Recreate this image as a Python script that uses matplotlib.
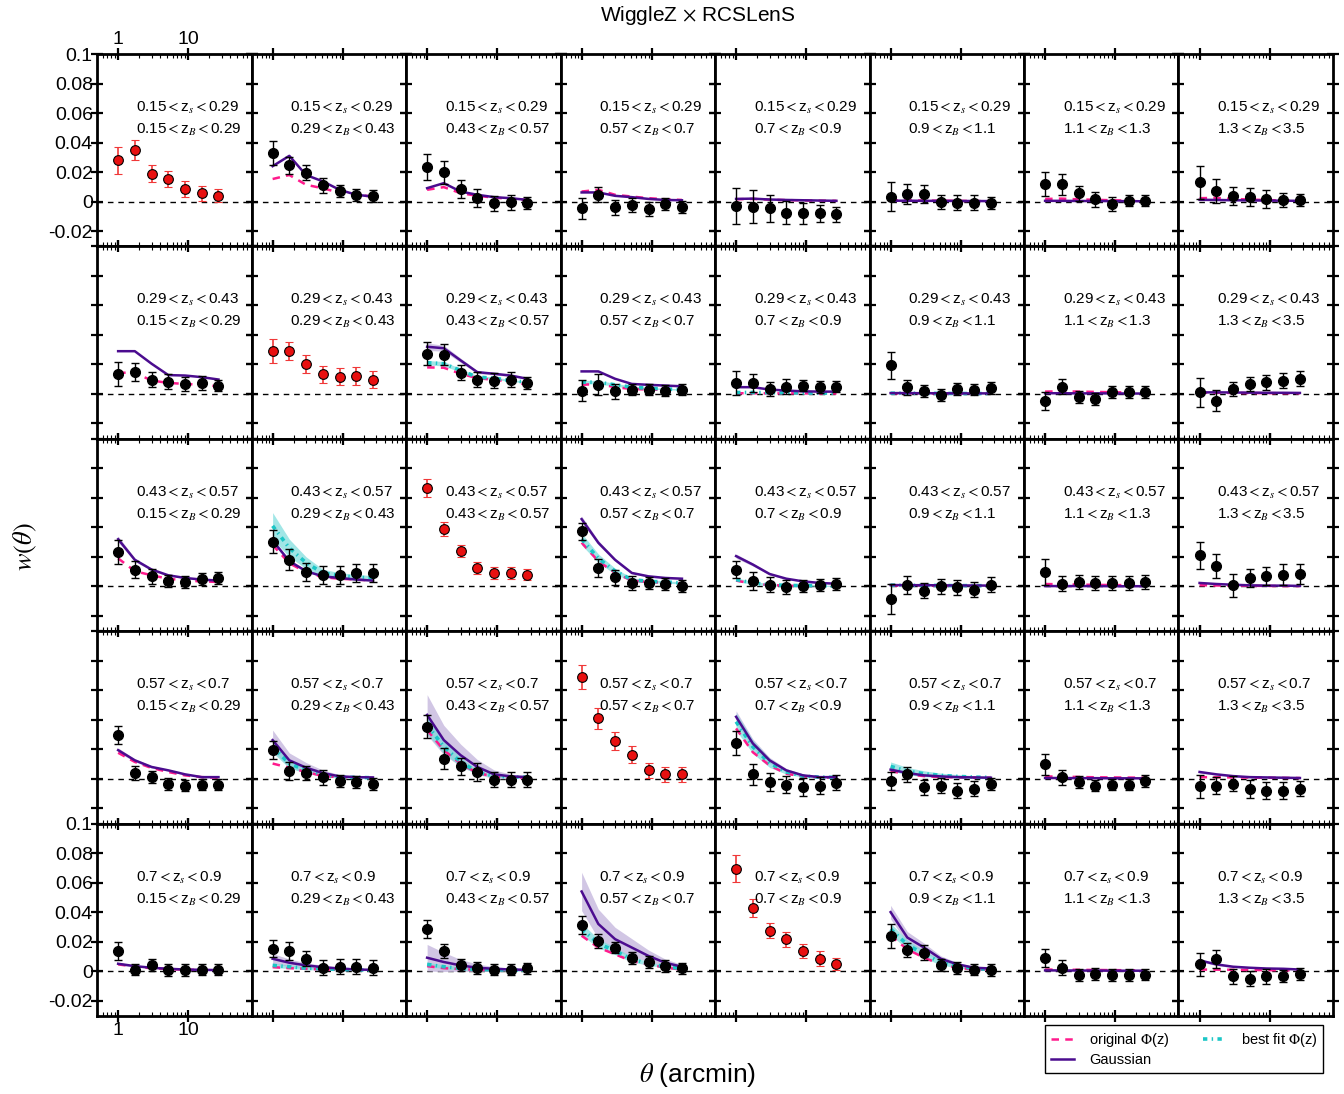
import numpy as np
import matplotlib.pyplot as plt
from matplotlib.ticker import FixedLocator, LogLocator, NullFormatter
from matplotlib.lines import Line2D

plt.rcParams['font.family'] = ['Liberation Sans', 'DejaVu Sans']
plt.rcParams['mathtext.fontset'] = 'stix'

# angular bins (arcmin)
theta = [1.0, 1.73, 3.0, 5.2, 9.0, 15.6, 27.0]

zs_edges = ["0.15", "0.29", "0.43", "0.57", "0.7", "0.9"]
zb_edges = ["0.15", "0.29", "0.43", "0.57", "0.7", "0.9", "1.1", "1.3", "3.5"]

# ---- row 0 : 0.15<zs<0.29
obs_0 = [[0.028, 0.035, 0.019, 0.0155, 0.0085, 0.0055, 0.004],
         [0.033, 0.0245, 0.0195, 0.011, 0.007, 0.0047, 0.004],
         [0.0235, 0.0198, 0.0084, 0.0023, -0.0011, -0.0005, -0.0011],
         [-0.0046, 0.0046, -0.0039, -0.0023, -0.005, -0.0016, -0.0034],
         [-0.003, -0.0034, -0.0046, -0.0075, -0.008, -0.008, -0.0087],
         [0.0034, 0.0052, 0.0052, -0.0002, -0.0007, -0.0007, -0.0007],
         [0.0118, 0.0118, 0.0057, 0.0016, -0.0016, 0.0007, 0.0007],
         [0.013, 0.0073, 0.0039, 0.003, 0.0016, 0.0011, 0.0009]]
err_0 = [[0.009, 0.007, 0.006, 0.0055, 0.0055, 0.005, 0.0045],
         [0.008, 0.006, 0.005, 0.005, 0.004, 0.004, 0.004],
         [0.009, 0.008, 0.006, 0.006, 0.005, 0.005, 0.004],
         [0.007, 0.005, 0.005, 0.005, 0.005, 0.004, 0.004],
         [0.012, 0.011, 0.009, 0.008, 0.007, 0.006, 0.005],
         [0.010, 0.007, 0.006, 0.005, 0.005, 0.005, 0.004],
         [0.008, 0.007, 0.005, 0.005, 0.005, 0.004, 0.004],
         [0.011, 0.008, 0.006, 0.006, 0.006, 0.005, 0.004]]
gauss_0 = [None,
           [0.024, 0.031, 0.018, 0.0137, 0.008, 0.0046, 0.0034],
           [0.0091, 0.0125, 0.0068, 0.0046, 0.003, 0.0023, 0.0011],
           [0.0062, 0.0062, 0.0039, 0.003, 0.0018, 0.0011, 0.0009],
           [0.0018, 0.002, 0.0014, 0.0011, 0.0009, 0.0007, 0.0005],
           [0.0006, 0.0006, 0.0005, 0.0005, 0.0004, 0.0004, 0.0003],
           [0.0005, 0.0005, 0.0004, 0.0004, 0.0003, 0.0003, 0.0002],
           [0.0012, 0.0011, 0.0009, 0.0008, 0.0007, 0.0006, 0.0005]]
orig_0 = [None,
          [0.0153, 0.018, 0.0114, 0.009, 0.006, 0.0046, 0.0034],
          [0.008, 0.0098, 0.0057, 0.0039, 0.0027, 0.0018, 0.0011],
          [0.0068, 0.008, 0.0046, 0.0034, 0.0023, 0.0016, 0.0011],
          [0.0016, 0.0018, 0.0013, 0.001, 0.0008, 0.0006, 0.0005],
          [0.0008, 0.0009, 0.0007, 0.0006, 0.0005, 0.0004, 0.0003],
          [0.0018, 0.002, 0.0015, 0.0012, 0.0009, 0.0007, 0.0005],
          [0.0023, 0.0025, 0.0018, 0.0014, 0.001, 0.0008, 0.0006]]
best_0 = [None] * 8
gband_0 = [None] * 8
bband_0 = [None] * 8

# ---- row 1 : 0.29<zs<0.43
obs_1 = [[0.0137, 0.0148, 0.0098, 0.0084, 0.0068, 0.0075, 0.0057],
         [0.029, 0.029, 0.0205, 0.0132, 0.0118, 0.0121, 0.0098],
         [0.0274, 0.0267, 0.0144, 0.0098, 0.0091, 0.0098, 0.0075],
         [0.0023, 0.0062, 0.0018, 0.003, 0.003, 0.0023, 0.003],
         [0.0075, 0.0073, 0.0034, 0.005, 0.0057, 0.0046, 0.005],
         [0.0194, 0.0046, 0.0018, -0.0005, 0.0034, 0.003, 0.0039],
         [-0.0046, 0.005, -0.0023, -0.0034, 0.0016, 0.0011, 0.0011],
         [0.0011, -0.0046, 0.0034, 0.0068, 0.008, 0.0091, 0.0103]]
err_1 = [[0.008, 0.006, 0.005, 0.005, 0.005, 0.005, 0.004],
         [0.008, 0.006, 0.006, 0.006, 0.006, 0.006, 0.006],
         [0.008, 0.007, 0.005, 0.005, 0.005, 0.005, 0.004],
         [0.007, 0.007, 0.005, 0.004, 0.004, 0.004, 0.004],
         [0.008, 0.006, 0.005, 0.005, 0.004, 0.004, 0.004],
         [0.009, 0.005, 0.004, 0.004, 0.004, 0.004, 0.004],
         [0.006, 0.005, 0.004, 0.004, 0.004, 0.004, 0.004],
         [0.010, 0.007, 0.005, 0.005, 0.005, 0.005, 0.005]]
gauss_1 = [[0.029, 0.029, 0.0205, 0.0128, 0.0125, 0.0114, 0.0098],
           None,
           [0.032, 0.031, 0.0228, 0.0148, 0.0137, 0.0125, 0.0103],
           [0.0153, 0.0153, 0.0103, 0.0068, 0.0062, 0.0057, 0.0052],
           [0.0046, 0.0046, 0.003, 0.0023, 0.0018, 0.0016, 0.0016],
           [0.0006, 0.0006, 0.0005, 0.0005, 0.0004, 0.0004, 0.0004],
           [0.0005, 0.0005, 0.0004, 0.0004, 0.0004, 0.0003, 0.0003],
           [0.0011, 0.0011, 0.001, 0.0009, 0.0008, 0.0008, 0.0007]]
orig_1 = [[0.0144, 0.0144, 0.0091, 0.0075, 0.0068, 0.0062, 0.0052],
          None,
          [0.018, 0.0178, 0.0137, 0.0107, 0.0096, 0.0084, 0.0062],
          [0.0062, 0.0068, 0.0046, 0.0034, 0.003, 0.0027, 0.0023],
          [0.0005, 0.0005, 0.0004, 0.0004, 0.0004, 0.0003, 0.0003],
          [0.0004, 0.0004, 0.0004, 0.0003, 0.0003, 0.0003, 0.0002],
          [0.0016, 0.0018, 0.0016, 0.0014, 0.0012, 0.001, 0.0009],
          [0.0008, 0.0008, 0.0007, 0.0006, 0.0006, 0.0005, 0.0005]]
best_1 = [None, None,
          [0.0212, 0.0205, 0.016, 0.0114, 0.0107, 0.0091, 0.008],
          [0.008, 0.008, 0.0062, 0.0046, 0.0039, 0.0034, 0.003],
          [0.001, 0.001, 0.0009, 0.0008, 0.0007, 0.0006, 0.0006],
          [0.0005, 0.0005, 0.0004, 0.0004, 0.0003, 0.0003, 0.0003],
          None, None]
gband_1 = [None, None,
           [0.0025, 0.002, 0.0015, 0.001, 0.0008, 0.0007, 0.0006],
           None, None, None, None, None]
bband_1 = [None, None,
           [0.0015, 0.0015, 0.0012, 0.001, 0.0008, 0.0007, 0.0006],
           [0.0012, 0.0012, 0.001, 0.0008, 0.0006, 0.0005, 0.0005],
           None, None, None, None]

# ---- row 2 : 0.43<zs<0.57
obs_2 = [[0.0233, 0.0114, 0.0068, 0.0034, 0.003, 0.0052, 0.0057],
         [0.0303, 0.018, 0.0096, 0.0075, 0.0075, 0.0091, 0.0091],
         [0.0668, 0.0388, 0.024, 0.0125, 0.0091, 0.0091, 0.008],
         [0.0372, 0.0125, 0.0062, 0.0023, 0.0023, 0.0018, 0.0005],
         [0.0114, 0.0034, 0.0011, -0.0005, 0.0, 0.0011, 0.0018],
         [-0.0084, 0.0011, -0.003, 0.0, -0.0007, -0.0023, 0.0011],
         [0.0096, 0.0018, 0.003, 0.0023, 0.0023, 0.0023, 0.003],
         [0.021, 0.0137, 0.0007, 0.0057, 0.0068, 0.008, 0.0084]]
err_2 = [[0.008, 0.006, 0.005, 0.004, 0.004, 0.004, 0.004],
         [0.008, 0.007, 0.006, 0.006, 0.006, 0.006, 0.006],
         [0.006, 0.005, 0.004, 0.004, 0.004, 0.004, 0.004],
         [0.006, 0.006, 0.005, 0.005, 0.004, 0.004, 0.004],
         [0.006, 0.006, 0.005, 0.005, 0.004, 0.004, 0.004],
         [0.010, 0.006, 0.005, 0.005, 0.005, 0.005, 0.005],
         [0.009, 0.005, 0.005, 0.005, 0.005, 0.005, 0.005],
         [0.009, 0.008, 0.008, 0.006, 0.006, 0.007, 0.007]]
gauss_2 = [[0.032, 0.018, 0.0114, 0.0075, 0.0057, 0.0046, 0.0039],
           [0.031, 0.0171, 0.0103, 0.0068, 0.0057, 0.0046, 0.0039],
           None,
           [0.0456, 0.0296, 0.018, 0.0091, 0.0068, 0.0057, 0.0052],
           [0.0205, 0.0148, 0.0084, 0.0052, 0.0034, 0.0023, 0.0018],
           [0.0009, 0.0008, 0.0008, 0.0007, 0.0006, 0.0006, 0.0005],
           [0.0002, 0.0002, 0.0002, 0.0002, 0.0001, 0.0001, 0.0001],
           [0.0023, 0.0016, 0.0011, 0.0007, 0.0005, 0.0005, 0.0003]]
orig_2 = [[0.019, 0.0103, 0.0075, 0.0052, 0.0039, 0.0034, 0.003],
          [0.028, 0.0157, 0.0096, 0.0062, 0.0052, 0.0046, 0.0039],
          None,
          [0.0296, 0.0171, 0.0091, 0.0039, 0.003, 0.0023, 0.0018],
          [0.0039, 0.0018, 0.0009, 0.0005, 0.0002, 0.0002, 0.0],
          [0.0005, 0.0005, 0.0004, 0.0004, 0.0003, 0.0003, 0.0003],
          [0.0016, 0.0014, 0.0012, 0.001, 0.0009, 0.0008, 0.0007],
          [0.0008, 0.0006, 0.0005, 0.0004, 0.0003, 0.0002, 0.0002]]
best_2 = [None,
          [0.041, 0.026, 0.016, 0.0091, 0.0073, 0.0062, 0.0057],
          None,
          [0.032, 0.019, 0.0103, 0.0046, 0.0034, 0.003, 0.0023],
          [0.0046, 0.0023, 0.0011, 0.0007, 0.0005, 0.0005, 0.0002],
          [0.0008, 0.0007, 0.0007, 0.0006, 0.0005, 0.0005, 0.0004],
          None, None]
gband_2 = [[0.002, 0.0012, 0.0008, 0.0005, 0.0004, 0.0003, 0.0003],
           [0.0015, 0.001, 0.0007, 0.0005, 0.0004, 0.0003, 0.0003],
           None,
           [0.002, 0.0015, 0.001, 0.0007, 0.0005, 0.0004, 0.0003],
           [0.0015, 0.001, 0.0007, 0.0005, 0.0003, 0.0002, 0.0002],
           None, None, None]
bband_2 = [None,
           [0.009, 0.006, 0.004, 0.0025, 0.002, 0.0018, 0.0016],
           None,
           [0.004, 0.003, 0.002, 0.0012, 0.001, 0.0008, 0.0007],
           [0.0012, 0.001, 0.0008, 0.0006, 0.0005, 0.0004, 0.0004],
           None, None, None]

# ---- row 3 : 0.57<zs<0.7
obs_3 = [[0.0296, 0.0039, 0.0011, -0.0034, -0.0046, -0.0039, -0.0039],
         [0.0194, 0.0052, 0.0039, 0.0011, -0.0016, -0.0023, -0.0034],
         [0.0353, 0.0137, 0.0084, 0.0046, -0.0007, -0.0007, -0.0007],
         [0.069, 0.041, 0.0255, 0.0164, 0.0057, 0.003, 0.003],
         [0.0244, 0.003, -0.0023, -0.0039, -0.0057, -0.0046, -0.0027],
         [-0.0016, 0.003, -0.0057, -0.0046, -0.008, -0.0068, -0.0034],
         [0.0098, 0.0011, -0.0023, -0.0046, -0.0039, -0.0039, -0.0016],
         [-0.0052, -0.0046, -0.0034, -0.0068, -0.008, -0.008, -0.0068]]
err_3 = [[0.006, 0.005, 0.004, 0.004, 0.004, 0.004, 0.004],
         [0.006, 0.006, 0.005, 0.005, 0.004, 0.004, 0.004],
         [0.008, 0.007, 0.006, 0.006, 0.005, 0.005, 0.005],
         [0.008, 0.007, 0.006, 0.006, 0.005, 0.005, 0.005],
         [0.008, 0.007, 0.006, 0.006, 0.006, 0.006, 0.005],
         [0.006, 0.005, 0.005, 0.005, 0.005, 0.005, 0.004],
         [0.007, 0.005, 0.004, 0.004, 0.004, 0.004, 0.004],
         [0.008, 0.006, 0.005, 0.006, 0.006, 0.006, 0.005]]
gauss_3 = [[0.0194, 0.0125, 0.008, 0.0057, 0.003, 0.0011, 0.0011],
           [0.0262, 0.0125, 0.0075, 0.0039, 0.0016, 0.0011, 0.0009],
           [0.0433, 0.0262, 0.016, 0.008, 0.003, 0.0016, 0.0011],
           None,
           [0.042, 0.024, 0.0125, 0.0057, 0.0023, 0.0011, 0.0011],
           [0.0062, 0.0039, 0.0023, 0.0016, 0.0011, 0.0009, 0.0007],
           [0.0005, 0.0005, 0.0004, 0.0004, 0.0003, 0.0003, 0.0003],
           [0.0046, 0.003, 0.0018, 0.0011, 0.0009, 0.0007, 0.0005]]
orig_3 = [[0.0176, 0.0114, 0.0073, 0.0046, 0.0023, 0.0011, 0.0007],
          [0.0103, 0.0075, 0.0046, 0.0018, 0.0011, 0.0007, 0.0005],
          [0.033, 0.0194, 0.0103, 0.0039, 0.0016, 0.0009, 0.0007],
          None,
          [0.0341, 0.018, 0.0091, 0.0034, 0.0016, 0.0009, 0.0007],
          [0.0052, 0.003, 0.0018, 0.0011, 0.0009, 0.0007, 0.0007],
          [0.0016, 0.0014, 0.0012, 0.001, 0.0009, 0.0008, 0.0007],
          [0.0011, 0.001, 0.0009, 0.0008, 0.0007, 0.0006, 0.0005]]
best_3 = [None,
          [0.0217, 0.0103, 0.0057, 0.003, 0.0011, 0.0009, 0.0007],
          [0.0364, 0.0217, 0.0114, 0.0046, 0.0018, 0.0011, 0.0011],
          None,
          [0.0387, 0.0217, 0.0107, 0.0046, 0.0018, 0.0011, 0.0009],
          [0.0084, 0.0052, 0.0034, 0.0023, 0.0016, 0.0011, 0.0009],
          None, None]
gband_3 = [[0.0015, 0.001, 0.0008, 0.0006, 0.0004, 0.0003, 0.0003],
           [0.0068, 0.005, 0.0035, 0.002, 0.0012, 0.0008, 0.0006],
           [0.0137, 0.01, 0.0075, 0.005, 0.003, 0.0015, 0.001],
           None,
           [0.004, 0.003, 0.002, 0.0012, 0.0008, 0.0005, 0.0004],
           [0.001, 0.0008, 0.0006, 0.0005, 0.0004, 0.0003, 0.0003],
           None,
           [0.0008, 0.0006, 0.0005, 0.0004, 0.0003, 0.0003, 0.0002]]
bband_3 = [None,
           [0.004, 0.003, 0.002, 0.0012, 0.0008, 0.0005, 0.0004],
           [0.006, 0.0045, 0.003, 0.0015, 0.0008, 0.0005, 0.0004],
           None,
           [0.006, 0.0045, 0.003, 0.0015, 0.0008, 0.0005, 0.0004],
           [0.003, 0.0025, 0.002, 0.0015, 0.0012, 0.001, 0.0008],
           None, None]

# ---- row 4 : 0.7<zs<0.9
obs_4 = [[0.0135, 0.0011, 0.0039, 0.0007, 0.0007, 0.0011, 0.0011],
         [0.0153, 0.0137, 0.0084, 0.0023, 0.003, 0.003, 0.0023],
         [0.0285, 0.0137, 0.0039, 0.0023, 0.0011, 0.0011, 0.0018],
         [0.0312, 0.0205, 0.016, 0.0091, 0.0062, 0.0034, 0.0018],
         [0.0695, 0.0426, 0.0274, 0.0217, 0.0137, 0.0084, 0.0046],
         [0.024, 0.0144, 0.0125, 0.0039, 0.0023, 0.0011, 0.0007],
         [0.0091, 0.0023, -0.0027, -0.0018, -0.0027, -0.0027, -0.0023],
         [0.0046, 0.0084, -0.0034, -0.005, -0.0034, -0.0034, -0.0018]]
err_4 = [[0.006, 0.004, 0.004, 0.004, 0.004, 0.004, 0.004],
         [0.006, 0.006, 0.005, 0.005, 0.005, 0.005, 0.005],
         [0.006, 0.005, 0.004, 0.004, 0.004, 0.004, 0.004],
         [0.006, 0.005, 0.004, 0.004, 0.004, 0.004, 0.004],
         [0.009, 0.006, 0.005, 0.005, 0.005, 0.005, 0.004],
         [0.008, 0.005, 0.005, 0.004, 0.004, 0.004, 0.004],
         [0.006, 0.005, 0.004, 0.004, 0.004, 0.004, 0.004],
         [0.008, 0.006, 0.005, 0.005, 0.005, 0.004, 0.004]]
gauss_4 = [[0.005, 0.0034, 0.0023, 0.0016, 0.0011, 0.0009, 0.0007],
           [0.0084, 0.0057, 0.0039, 0.0027, 0.0018, 0.0011, 0.0009],
           [0.0091, 0.0062, 0.0039, 0.0023, 0.0016, 0.0011, 0.0009],
           [0.054, 0.032, 0.0217, 0.016, 0.0103, 0.0057, 0.003],
           None,
           [0.040, 0.0228, 0.016, 0.0084, 0.0046, 0.0023, 0.0018],
           [0.0005, 0.0005, 0.0004, 0.0004, 0.0003, 0.0003, 0.0003],
           [0.0073, 0.0046, 0.003, 0.0023, 0.0018, 0.0016, 0.0011]]
orig_4 = [[0.0046, 0.003, 0.002, 0.0014, 0.001, 0.0008, 0.0006],
          [0.0027, 0.002, 0.0016, 0.0011, 0.0009, 0.0007, 0.0005],
          [0.0034, 0.002, 0.0014, 0.0009, 0.0007, 0.0005, 0.0005],
          [0.024, 0.016, 0.0114, 0.0068, 0.0046, 0.0023, 0.0011],
          None,
          [0.024, 0.0148, 0.0091, 0.0046, 0.0023, 0.0011, 0.0009],
          [0.0011, 0.001, 0.0009, 0.0008, 0.0007, 0.0006, 0.0005],
          [0.0011, 0.001, 0.0009, 0.0008, 0.0007, 0.0006, 0.0005]]
best_4 = [None,
          [0.0039, 0.003, 0.002, 0.0016, 0.0011, 0.0009, 0.0007],
          [0.0046, 0.003, 0.0018, 0.0011, 0.0009, 0.0007, 0.0005],
          [0.0285, 0.0188, 0.0137, 0.008, 0.0052, 0.003, 0.0018],
          None,
          [0.0285, 0.018, 0.0114, 0.006, 0.0034, 0.0018, 0.0011],
          None, None]
gband_4 = [[0.0008, 0.0006, 0.0005, 0.0004, 0.0003, 0.0003, 0.0002],
           [0.0035, 0.0025, 0.0018, 0.0012, 0.0008, 0.0006, 0.0004],
           [0.009, 0.0065, 0.004, 0.0025, 0.0015, 0.001, 0.0008],
           [0.013, 0.01, 0.008, 0.006, 0.004, 0.0025, 0.0015],
           None,
           [0.0046, 0.004, 0.003, 0.002, 0.0012, 0.0008, 0.0006],
           None,
           [0.001, 0.0008, 0.0006, 0.0005, 0.0004, 0.0003, 0.0003]]
bband_4 = [None,
           [0.0015, 0.0012, 0.001, 0.0008, 0.0006, 0.0005, 0.0004],
           [0.0015, 0.0012, 0.001, 0.0008, 0.0006, 0.0005, 0.0004],
           [0.004, 0.003, 0.0025, 0.0018, 0.0012, 0.0008, 0.0005],
           None,
           [0.004, 0.003, 0.0025, 0.0018, 0.0012, 0.0008, 0.0005],
           None, None]

obs = [obs_0, obs_1, obs_2, obs_3, obs_4]
err = [err_0, err_1, err_2, err_3, err_4]
gauss = [gauss_0, gauss_1, gauss_2, gauss_3, gauss_4]
orig = [orig_0, orig_1, orig_2, orig_3, orig_4]
best = [best_0, best_1, best_2, best_3, best_4]
gband = [gband_0, gband_1, gband_2, gband_3, gband_4]
bband = [bband_0, bband_1, bband_2, bband_3, bband_4]

c_orig = '#ff1a8c'
c_best = '#1cc6c6'
c_gauss = '#4b0c8f'

fig = plt.figure(figsize=(13.44, 10.94), dpi=100)
gs = fig.add_gridspec(5, 8, left=0.0722, right=0.9918, top=0.9506, bottom=0.0713,
                      wspace=0, hspace=0)

yt = [-0.02, 0, 0.02, 0.04, 0.06, 0.08, 0.1]
ytl = ['-0.02', '0', '0.02', '0.04', '0.06', '0.08', '0.1']

for r in range(5):
    for c in range(8):
        ax = fig.add_subplot(gs[r, c])
        ax.set_xscale('log')
        ax.set_xlim(0.5, 80)
        ax.set_ylim(-0.0304, 0.1)
        ax.axhline(0, color='k', ls=(0, (4, 3.5)), lw=1.0, zorder=1)

        th = np.array(theta)
        if gband[r][c] is not None:
            g = np.array(gauss[r][c]); b = np.array(gband[r][c])
            ax.fill_between(th, g - b, g + b, color='#c9bce0', alpha=0.85, lw=0, zorder=2)
        if bband[r][c] is not None:
            g = np.array(best[r][c]); b = np.array(bband[r][c])
            ax.fill_between(th, g - b, g + b, color='#7adcdc', alpha=0.7, lw=0, zorder=2)
        if orig[r][c] is not None:
            ax.plot(th, orig[r][c], color=c_orig, ls=(0, (3, 2.5)), lw=1.8, zorder=3)
        if best[r][c] is not None:
            ax.plot(th, best[r][c], color=c_best, ls=(0, (1.2, 1.2, 0.4, 1.2)), lw=2.6, zorder=3)
        if gauss[r][c] is not None:
            ax.plot(th, gauss[r][c], color=c_gauss, lw=1.8, zorder=4)

        if r == c:
            ax.errorbar(th, obs[r][c], yerr=err[r][c], fmt='o', ms=7, mfc='#e81010', mec='k',
                        mew=0.8, ecolor='#f03838', elinewidth=1.2, capsize=3, capthick=1.2, zorder=5)
        else:
            ax.errorbar(th, obs[r][c], yerr=err[r][c], fmt='o', ms=7, mfc='k', mec='k',
                        ecolor='k', elinewidth=1.0, capsize=3, capthick=1.0, zorder=5)

        ax.text(0.25, 0.72, zs_edges[r] + r'${<}$z$_s$${<}$' + zs_edges[r + 1],
                transform=ax.transAxes, fontsize=11, va='center', ha='left', zorder=6)
        ax.text(0.25, 0.605, zb_edges[c] + r'${<}$z$_B$${<}$' + zb_edges[c + 1],
                transform=ax.transAxes, fontsize=11, va='center', ha='left', zorder=6)

        ax.yaxis.set_major_locator(FixedLocator(yt))
        ax.xaxis.set_major_locator(FixedLocator([1, 10]))
        ax.xaxis.set_minor_locator(LogLocator(base=10, subs=range(2, 10)))
        ax.xaxis.set_minor_formatter(NullFormatter())
        ax.tick_params(which='major', direction='inout', length=9, width=1.6,
                       top=True, right=True, labelsize=14)
        ax.tick_params(axis='y', which='major', pad=-1.5)
        ax.tick_params(axis='x', which='major', pad=0)
        ax.tick_params(which='minor', direction='in', length=3, width=0.8,
                       top=True, right=True)
        for s in ax.spines.values():
            s.set_linewidth(2.0)

        show_lab = (c == 0 and r in (0, 4))
        if show_lab:
            ax.set_yticklabels(ytl)
            ax.set_xticklabels(['1', '10'])
        ax.tick_params(labelleft=show_lab, labelright=False,
                       labeltop=(show_lab and r == 0), labelbottom=(show_lab and r == 4))

fig.text(0.519, 0.986, r'WiggleZ $\times$ RCSLenS', ha='center', va='center', fontsize=15)
fig.text(0.519, 0.0174, r'$\theta$ (arcmin)', ha='center', va='center', fontsize=19)
fig.text(0.019, 0.5, r'$w(\theta)$', ha='center', va='center', rotation=90, fontsize=19)

handles = [Line2D([], [], color=c_orig, ls=(0, (3, 2.5)), lw=1.8),
           Line2D([], [], color=c_gauss, lw=1.8),
           Line2D([], [], color=c_best, ls=(0, (1.2, 1.2, 0.4, 1.2)), lw=2.6)]
labels = [r'original $\Phi$(z)', 'Gaussian', r'best fit $\Phi$(z)']
fig.legend(handles, labels, ncol=2, loc='upper right', bbox_to_anchor=(0.9845, 0.0631),
           fontsize=10.5, frameon=True, fancybox=False, edgecolor='k', framealpha=1,
           borderaxespad=0, handlelength=1.6, handletextpad=1.0, columnspacing=2.3,
           labelspacing=0.3)

fig.savefig('out.png', dpi=100)
